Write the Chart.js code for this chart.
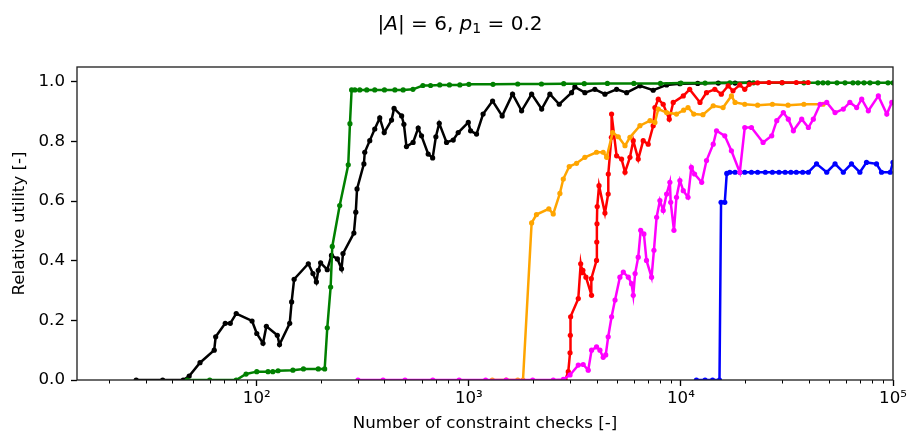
<!DOCTYPE html>
<html><head><meta charset="utf-8">
<script src="https://cdn.jsdelivr.net/npm/chart.js@4.4.1/dist/chart.umd.min.js"></script>
<style>html,body{margin:0;padding:0;background:#fff}#wrap{width:910px;height:434px;position:relative}</style>
</head><body><div id="wrap"><canvas id="c" width="910" height="434"></canvas></div>
<script>
// ---------- data ----------
const blackX=[27,36,45,48,54,63,64,71,75,80,95,100,107,111,125,128,143,146,150,175,184,191,195,200,215,225,240,251,255,287,293,297,320,323,341,360,380,399,432,444,482,494,508,546,577,598,643,675,699,725,785,844,891,994,1019,1087,1167,1294,1436,1607,1773,1977,2205,2411,2668,3050,3162,3524,3930,4382,4974,5547,6407,7400,8560,9890,12000,15000,18000,21000];
const blackY=[0,0,0,0.013,0.058,0.10,0.145,0.19,0.19,0.223,0.198,0.156,0.123,0.18,0.15,0.119,0.19,0.262,0.338,0.39,0.357,0.329,0.368,0.393,0.37,0.418,0.406,0.373,0.424,0.493,0.563,0.641,0.725,0.764,0.803,0.842,0.879,0.83,0.872,0.911,0.886,0.858,0.783,0.797,0.845,0.819,0.758,0.745,0.816,0.861,0.797,0.805,0.83,0.864,0.836,0.825,0.892,0.936,0.886,0.959,0.903,0.959,0.909,0.959,0.925,0.964,0.983,0.964,0.975,0.959,0.975,0.964,0.987,0.972,0.99,0.994,0.995,0.996,0.996,0.997];

const greenX=[47,60,80,89,100,113,119,126,148,166,195,209,215,223,227,246,270,275,280,290,306,330,360,400,448,490,545,607,660,729,810,907,1000,1300,1700,2200,2800,3500,4500,6000,8000,10000,13000,17000,22000,30000,38000,44260,46770,49350,54450,59400,64750,68400,73000,77900,84900,94700,100000];
const greenY=[0,0,0,0.02,0.028,0.028,0.028,0.031,0.033,0.037,0.037,0.037,0.175,0.312,0.448,0.585,0.722,0.86,0.973,0.973,0.973,0.973,0.973,0.973,0.973,0.973,0.975,0.988,0.988,0.99,0.99,0.99,0.992,0.992,0.993,0.993,0.994,0.994,0.995,0.995,0.995,0.996,0.996,0.997,0.997,0.997,0.997,0.997,0.997,0.997,0.997,0.997,0.997,0.997,0.997,0.997,0.997,0.997,0.997];

const orangeX=[1290,1500,1700,1800,1977,2084,2383,2500,2687,2788,2974,3220,3524,4000,4300,4463,4764,5064,5450,5750,6407,7150,7540,7820,8560,9530,10300,10800,11500,12700,14200,15800,17300,18000,20000,23000,27000,32000,38000,46800];
const orangeY=[0,0,0,0,0.527,0.555,0.574,0.557,0.626,0.674,0.716,0.727,0.747,0.764,0.764,0.747,0.83,0.816,0.786,0.814,0.853,0.87,0.864,0.909,0.897,0.892,0.905,0.914,0.892,0.89,0.92,0.914,0.953,0.931,0.925,0.922,0.925,0.922,0.925,0.925];

const redX=[2850,2943,3000,3010,3020,3281,3368,3420,3450,3566,3790,3780,4000,4010,4020,4030,4110,4382,4540,4545,4700,4710,4974,5250,5450,5750,5960,6290,6640,7010,7400,7540,7820,8250,8810,9200,10260,11000,12300,13200,14450,15500,16700,17600,18950,20000,21000,23000,26000,30000,35000,39800];
const redY=[0,0.028,0.091,0.15,0.212,0.273,0.39,0.36,0.368,0.345,0.284,0.34,0.401,0.463,0.524,0.582,0.652,0.56,0.624,0.691,0.814,0.892,0.752,0.741,0.697,0.747,0.803,0.741,0.803,0.791,0.853,0.914,0.942,0.925,0.875,0.931,0.953,0.975,0.931,0.964,0.975,0.959,0.987,0.97,0.99,0.975,0.992,0.997,0.998,0.998,0.998,0.998];

const magentaX=[300,394,500,676,900,1200,1500,2000,2500,2790,3000,3281,3460,3655,3790,4000,4150,4300,4420,4540,4710,4890,5155,5350,5650,5850,5960,6080,6290,6460,6690,6880,7270,7460,7680,7960,8250,8560,8870,8950,9270,9530,9890,10260,10800,11200,11600,12530,13200,14200,14720,16100,17300,18950,20000,21500,24400,26800,28300,30400,32100,33900,37100,39900,42100,45300,48700,53300,58300,62600,67400,71200,76500,85300,93500,98700,100000];
const magentaY=[0,0,0,0,0,0,0,0,0,0.002,0.017,0.05,0.052,0.033,0.1,0.111,0.1,0.076,0.084,0.145,0.212,0.268,0.345,0.362,0.345,0.323,0.284,0.357,0.412,0.502,0.49,0.401,0.345,0.435,0.546,0.602,0.569,0.624,0.663,0.596,0.502,0.613,0.669,0.635,0.613,0.713,0.691,0.663,0.736,0.791,0.836,0.819,0.769,0.697,0.847,0.847,0.797,0.819,0.87,0.897,0.875,0.836,0.875,0.847,0.875,0.925,0.931,0.897,0.909,0.931,0.914,0.942,0.903,0.953,0.892,0.931,0.93];

const blueX=[11830,13000,14100,15200,15460,16100,16450,17000,18000,19000,20000,21500,23000,25000,27000,29000,31000,33000,35000,37500,39900,43600,48700,53300,58300,63700,69800,75000,83600,88300,97000,100000];
const blueY=[0,0,0,0,0.596,0.596,0.693,0.697,0.697,0.697,0.697,0.697,0.697,0.697,0.697,0.697,0.697,0.697,0.697,0.697,0.697,0.725,0.697,0.725,0.697,0.725,0.697,0.73,0.725,0.697,0.697,0.73];

const xTickValues=[20,30,40,50,60,70,80,90,100,200,300,400,500,600,700,800,900,1000,2000,3000,4000,5000,6000,7000,8000,9000,10000,20000,30000,40000,50000,60000,70000,80000,90000,100000];
const xTickLabels={100:'10²',1000:'10³',10000:'10⁴',100000:'10⁵'};
const yTickValues=[0,0.2,0.4,0.6,0.8,1.0];
const yTickLabels=['0.0','0.2','0.4','0.6','0.8','1.0'];

// ---------- chart ----------
const FONT='DejaVu Sans';
const pts=(xs,ys)=>xs.map((x,i)=>({x:x,y:ys[i]}));
const ds=(label,xs,ys,color)=>({label,data:pts(xs,ys),borderColor:color,backgroundColor:color,pointBackgroundColor:color,pointBorderWidth:0,pointRadius:2.6,borderWidth:2.5,tension:0,clip:0,fill:false});

const framePlugin={
  id:'frame',
  afterDraw(chart){
    const {ctx,chartArea:a,scales:{x}}=chart;
    ctx.save();
    ctx.strokeStyle='#000';
    ctx.lineWidth=1;
    xTickValues.forEach(v=>{
      if(xTickLabels[v]||v<x.min||v>x.max) return;
      const px=Math.round(x.getPixelForValue(v))+0.5;
      ctx.beginPath();ctx.moveTo(px,a.bottom);ctx.lineTo(px,a.bottom+3.5);ctx.stroke();
    });
    ctx.lineWidth=1.33;
    ctx.strokeStyle='#222';
    ctx.strokeRect(a.left,a.top,a.right-a.left,a.bottom-a.top);
    // suptitle (mathtext style)
    const segs=[['|','r'],['A','i'],['|','r'],[' = ','r'],['6, ','r'],['p','i'],['1','s'],[' = 0.2','r']];
    const fnt=k=>k==='i'?'oblique 20px "'+FONT+'"':(k==='s'?'14px "'+FONT+'"':'20px "'+FONT+'"');
    let total=0;
    segs.forEach(s=>{ctx.font=fnt(s[1]);total+=ctx.measureText(s[0]).width;});
    let cx=460-total/2;
    ctx.fillStyle='#000';
    ctx.textBaseline='alphabetic';
    ctx.textAlign='left';
    segs.forEach(s=>{ctx.font=fnt(s[1]);const dy=s[1]==='s'?3.5:0;ctx.fillText(s[0],cx,29.5+dy);cx+=ctx.measureText(s[0]).width;});
    ctx.restore();
  }
};

new Chart(document.getElementById('c'),{
  type:'line',
  data:{datasets:[
    ds('magenta',magentaX,magentaY,'#ff00ff'),
    ds('orange',orangeX,orangeY,'#ffa500'),
    ds('red',redX,redY,'#ff0000'),
    ds('blue',blueX,blueY,'#0000ff'),
    ds('green',greenX,greenY,'#008000'),
    ds('black',blackX,blackY,'#000000')
  ]},
  options:{
    responsive:false,
    devicePixelRatio:1,
    animation:false,
    parsing:true,
    layout:{padding:{top:67,right:17,bottom:0,left:0}},
    plugins:{legend:{display:false},tooltip:{enabled:false},title:{display:false}},
    scales:{
      x:{
        type:'logarithmic',position:'bottom',min:14.2,max:100000,
        afterBuildTicks:s=>{s.ticks=xTickValues.filter(v=>v>=s.min&&v<=s.max).map(v=>({value:v}));},
        afterFit:s=>{s.height=54;},
        ticks:{autoSkip:false,maxRotation:0,minRotation:0,padding:3,color:'#000',font:{family:FONT,size:16.67},callback:v=>xTickLabels[v]||''},
        grid:{drawOnChartArea:false,drawTicks:true,tickLength:6,tickWidth:1.33,tickColor:c=>(c.tick&&xTickLabels[c.tick.value])?'#000':'rgba(0,0,0,0)'},
        border:{display:false},
        title:{display:true,text:'Number of constraint checks [-]',color:'#000',font:{family:FONT,size:16.67},padding:{top:0,bottom:0}}
      },
      y:{
        type:'linear',position:'left',min:0,max:1.05,
        afterBuildTicks:s=>{s.ticks=yTickValues.map(v=>({value:v}));},
        afterFit:s=>{s.width=77;},
        ticks:{padding:6,color:'#000',font:{family:FONT,size:16.67},callback:(v,i)=>yTickLabels[i]},
        grid:{drawOnChartArea:false,drawTicks:true,tickLength:6,tickWidth:1.33,tickColor:'#000'},
        border:{display:false},
        title:{display:true,text:'Relative utility [-]',color:'#000',font:{family:FONT,size:16.67},padding:{top:10,bottom:0}}
      }
    }
  },
  plugins:[framePlugin]
});
</script>
</body></html>
